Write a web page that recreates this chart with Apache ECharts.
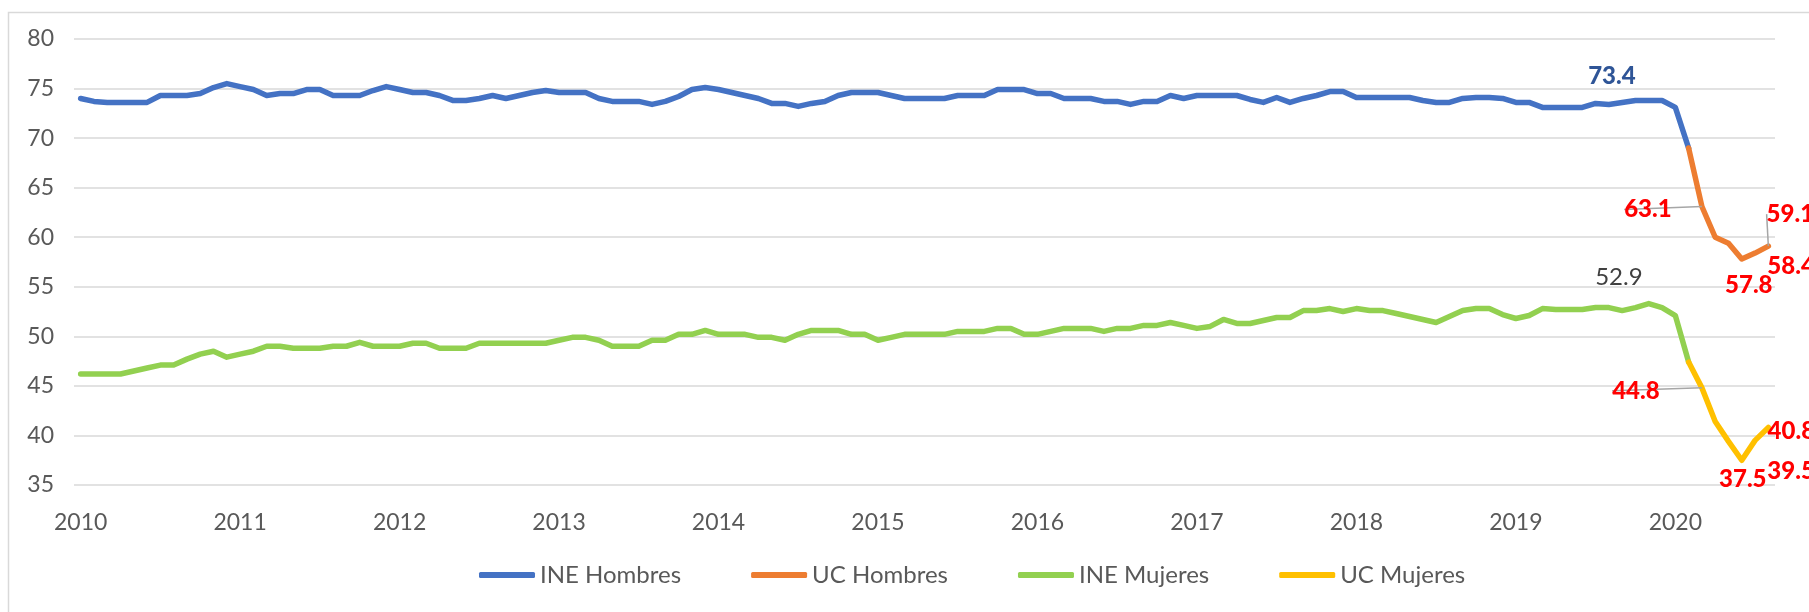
<!DOCTYPE html>
<html>
<head>
<meta charset="utf-8">
<script src="https://cdn.jsdelivr.net/npm/echarts@6/dist/echarts.min.js"></script>
<style>
  html, body { margin: 0; padding: 0; background: #fff; }
  #chart { width: 1809px; height: 612px; }
</style>
</head>
<body>
<div id="chart"></div>
<script>
// tick labels, one per year (Jan of each year)
const years = ['2010', '2011', '2012', '2013', '2014', '2015', '2016', '2017', '2018', '2019', '2020'];
const lastMonth2020 = 8; // series run to Aug 2020

// INE, Jan 2010 – Feb 2020 (monthly)
const ineHombres = [
  74.0, 73.7, 73.6, 73.6, 73.6, 73.6, 74.3, 74.3, 74.3, 74.5, 75.1, 75.5,
  75.2, 74.9, 74.3, 74.5, 74.5, 74.9, 74.9, 74.3, 74.3, 74.3, 74.8, 75.2,
  74.9, 74.6, 74.6, 74.3, 73.8, 73.8, 74.0, 74.3, 74.0, 74.3, 74.6, 74.8,
  74.6, 74.6, 74.6, 74.0, 73.7, 73.7, 73.7, 73.4, 73.7, 74.2, 74.9, 75.1,
  74.9, 74.6, 74.3, 74.0, 73.5, 73.5, 73.2, 73.5, 73.7, 74.3, 74.6, 74.6,
  74.6, 74.3, 74.0, 74.0, 74.0, 74.0, 74.3, 74.3, 74.3, 74.9, 74.9, 74.9,
  74.5, 74.5, 74.0, 74.0, 74.0, 73.7, 73.7, 73.4, 73.7, 73.7, 74.3, 74.0,
  74.3, 74.3, 74.3, 74.3, 73.9, 73.6, 74.1, 73.6, 74.0, 74.3, 74.7, 74.7,
  74.1, 74.1, 74.1, 74.1, 74.1, 73.8, 73.6, 73.6, 74.0, 74.1, 74.1, 74.0,
  73.6, 73.6, 73.1, 73.1, 73.1, 73.1, 73.5, 73.4, 73.6, 73.8, 73.8, 73.8,
  73.1, 69.0
];
const ineMujeres = [
  46.2, 46.2, 46.2, 46.2, 46.5, 46.8, 47.1, 47.1, 47.7, 48.2, 48.5, 47.9,
  48.2, 48.5, 49.0, 49.0, 48.8, 48.8, 48.8, 49.0, 49.0, 49.4, 49.0, 49.0,
  49.0, 49.3, 49.3, 48.8, 48.8, 48.8, 49.3, 49.3, 49.3, 49.3, 49.3, 49.3,
  49.6, 49.9, 49.9, 49.6, 49.0, 49.0, 49.0, 49.6, 49.6, 50.2, 50.2, 50.6,
  50.2, 50.2, 50.2, 49.9, 49.9, 49.6, 50.2, 50.6, 50.6, 50.6, 50.2, 50.2,
  49.6, 49.9, 50.2, 50.2, 50.2, 50.2, 50.5, 50.5, 50.5, 50.8, 50.8, 50.2,
  50.2, 50.5, 50.8, 50.8, 50.8, 50.5, 50.8, 50.8, 51.1, 51.1, 51.4, 51.1,
  50.8, 51.0, 51.7, 51.3, 51.3, 51.6, 51.9, 51.9, 52.6, 52.6, 52.8, 52.5,
  52.8, 52.6, 52.6, 52.3, 52.0, 51.7, 51.4, 52.0, 52.6, 52.8, 52.8, 52.2,
  51.8, 52.1, 52.8, 52.7, 52.7, 52.7, 52.9, 52.9, 52.6, 52.9, 53.3, 52.9,
  52.1, 47.4
];
// UC, Feb – Aug 2020
const ucHombres = [69.0, 63.1, 60.0, 59.4, 57.8, 58.4, 59.1];
const ucMujeres = [47.4, 44.8, 41.4, 39.4, 37.5, 39.5, 40.8];

const ucStart = ineHombres.length - 1;

// month categories built from the year ticks
const months = [];
years.forEach(function (y) {
  const n = y === '2020' ? lastMonth2020 : 12;
  for (let m = 1; m <= n; m++) months.push(y + '-' + (m < 10 ? '0' + m : m));
});

// which points get a value label, and where it sits (offset from the point)
const labelSpots = {
  'INE Hombres': { 115: [3, -28] },
  'INE Mujeres': { 115: [10, -30] },
  'UC Hombres': { 1: [-54, 3, true], 4: [7, 26], 5: [36, 13], 6: [22, -32, true] },
  'UC Mujeres': { 1: [-66, 3, true], 4: [1, 19], 5: [36, 31], 6: [23, 4] }
};

const FONT = 'Lato, "Open Sans", sans-serif';

function buildData(name, values, offset, total, labelStyle) {
  const out = [];
  for (let i = 0; i < total; i++) out.push(null);
  values.forEach(function (v, i) {
    const spot = labelSpots[name][i];
    if (spot) {
      out[offset + i] = {
        value: v,
        label: Object.assign({ show: true }, labelStyle),
        labelLine: { show: !!spot[2], lineStyle: { color: '#a6a6a6', width: 1.5 } }
      };
    } else {
      out[offset + i] = v;
    }
  });
  return out;
}

function makeSeries(name, values, offset, color, labelStyle) {
  return {
    name: name,
    type: 'line',
    data: buildData(name, values, offset, months.length, labelStyle),
    showSymbol: true,
    showAllSymbol: true,
    symbol: 'circle',
    symbolSize: 0,
    connectNulls: false,
    lineStyle: { color: color, width: 5.5, cap: 'round', join: 'round' },
    itemStyle: { color: color },
    label: { show: false, position: 'inside', fontFamily: FONT },
    labelLayout: function (params) {
      const spot = labelSpots[name][params.dataIndex - offset];
      return spot ? { dx: spot[0], dy: spot[1] } : {};
    },
    emphasis: { disabled: true }
  };
}

const redLabel = { color: '#FF0000', fontSize: 24, fontWeight: 900, fontFamily: FONT };

const chart = echarts.init(document.getElementById('chart'));
chart.setOption({
  animation: false,
  backgroundColor: '#fff',
  graphic: [{
    type: 'rect',
    shape: { x: 8.5, y: 12.5, width: 1900, height: 700 },
    style: { fill: 'none', stroke: '#d9d9d9', lineWidth: 1.5 },
    silent: true
  }],
  grid: { left: 74, right: 34, top: 39, bottom: 127 },
  legend: {
    left: 474,
    top: 558,
    icon: 'roundRect',
    itemWidth: 56,
    itemHeight: 6,
    itemGap: 70,
    textStyle: { fontSize: 24, color: '#595959', fontFamily: FONT }
  },
  xAxis: {
    type: 'category',
    data: months,
    boundaryGap: true,
    axisLine: { show: false },
    axisTick: { show: false },
    axisLabel: {
      interval: 11,
      margin: 26,
      fontSize: 23,
      color: '#595959',
      fontFamily: FONT,
      formatter: function (v) { return v.slice(0, 4); }
    },
    splitLine: { show: false }
  },
  yAxis: {
    type: 'value',
    min: 35,
    max: 80,
    interval: 5,
    axisLine: { show: false },
    axisTick: { show: false },
    axisLabel: { fontSize: 23, color: '#595959', margin: 20, fontFamily: FONT },
    splitLine: { lineStyle: { color: '#d9d9d9', width: 1.5 } }
  },
  series: [
    makeSeries('INE Hombres', ineHombres, 0, '#4472C4',
      { color: '#2F5597', fontSize: 24, fontWeight: 900, fontFamily: FONT }),
    makeSeries('UC Hombres', ucHombres, ucStart, '#ED7D31', redLabel),
    makeSeries('INE Mujeres', ineMujeres, 0, '#92D050',
      { color: '#404040', fontSize: 24, fontWeight: 'normal', fontFamily: FONT }),
    makeSeries('UC Mujeres', ucMujeres, ucStart, '#FFC000', redLabel)
  ]
});
</script>
</body>
</html>
